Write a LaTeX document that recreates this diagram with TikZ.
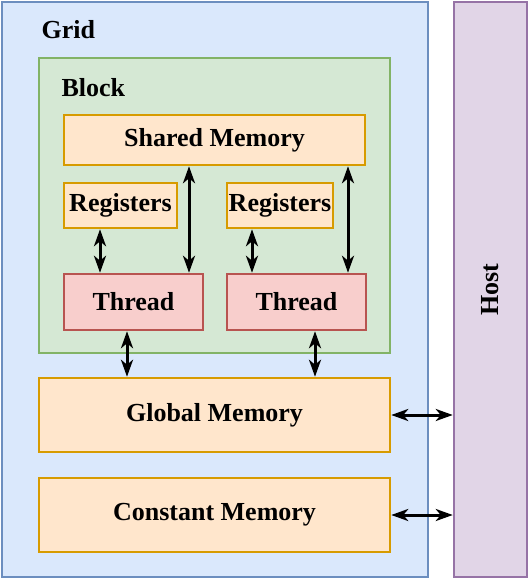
\documentclass[tikz,border=0pt]{standalone}
\usepackage{fontspec}
\setmainfont{Liberation Serif}
\usetikzlibrary{arrows.meta}

\begin{document}
\begin{tikzpicture}[x=1pt,y=1pt,
  every node/.style={font=\fontsize{26}{30}\selectfont\bfseries},
  box/.style={draw,line width=2.5pt,inner sep=0pt},
  mem/.style={box,fill={rgb,255:red,255;green,230;blue,204},draw={rgb,255:red,215;green,155;blue,0}},
  thr/.style={box,fill={rgb,255:red,248;green,206;blue,204},draw={rgb,255:red,184;green,84;blue,80}},
  link/.style={line width=3pt,>={Stealth[length=17pt,width=12pt,inset=5pt]},<->}]
\useasboundingbox (0,0) rectangle (530,-580);

% outer areas
\node[box,fill={rgb,255:red,218;green,232;blue,252},draw={rgb,255:red,108;green,142;blue,191},
  minimum width=426pt,minimum height=575pt] (grid) at (215,-289.5) {};
\node[box,fill={rgb,255:red,225;green,213;blue,231},draw={rgb,255:red,150;green,115;blue,166},
  minimum width=73pt,minimum height=575pt] (host) at (490.5,-289.5) {};
\node[rotate=90] at (host.center) {Host};
\node[anchor=west] at (38,-30) {Grid};

% block
\node[box,fill={rgb,255:red,213;green,232;blue,212},draw={rgb,255:red,130;green,179;blue,102},
  minimum width=351pt,minimum height=295pt] (block) at (214.5,-205.5) {};
\node[anchor=west] at (58,-88) {Block};

\node[mem,minimum width=301pt,minimum height=50pt] (shared) at (214.5,-140) {Shared Memory};
\node[mem,minimum width=113pt,minimum height=45pt] (regL) at (120.5,-205.5) {Registers};
\node[mem,minimum width=106pt,minimum height=45pt] (regR) at (280,-205.5) {Registers};
\node[thr,minimum width=139pt,minimum height=56pt] (thrL) at (133.5,-302) {Thread};
\node[thr,minimum width=139pt,minimum height=56pt] (thrR) at (296.5,-302) {Thread};

% memories
\node[mem,minimum width=351pt,minimum height=74pt] (global) at (214.5,-415) {Global Memory};
\node[mem,minimum width=351pt,minimum height=74pt] (const) at (214.5,-515) {Constant Memory};

% arrows
\draw[link] ([xshift=-20.5pt]regL.south) -- ([xshift=-20.5pt]regL.south |- thrL.north);
\draw[link] ([xshift=55.5pt]thrL.north |- shared.south) -- ([xshift=55.5pt]thrL.north);
\draw[link] ([xshift=-28pt]regR.south) -- ([xshift=-28pt]regR.south |- thrR.north);
\draw[link] ([xshift=51.5pt]thrR.north |- shared.south) -- ([xshift=51.5pt]thrR.north);
\draw[link] ([xshift=-6.5pt]thrL.south) -- ([xshift=-6.5pt]thrL.south |- global.north);
\draw[link] ([xshift=18.5pt]thrR.south) -- ([xshift=18.5pt]thrR.south |- global.north);
\draw[link] (global.east) -- (global.east -| host.west);
\draw[link] (const.east) -- (const.east -| host.west);
\end{tikzpicture}
\end{document}
